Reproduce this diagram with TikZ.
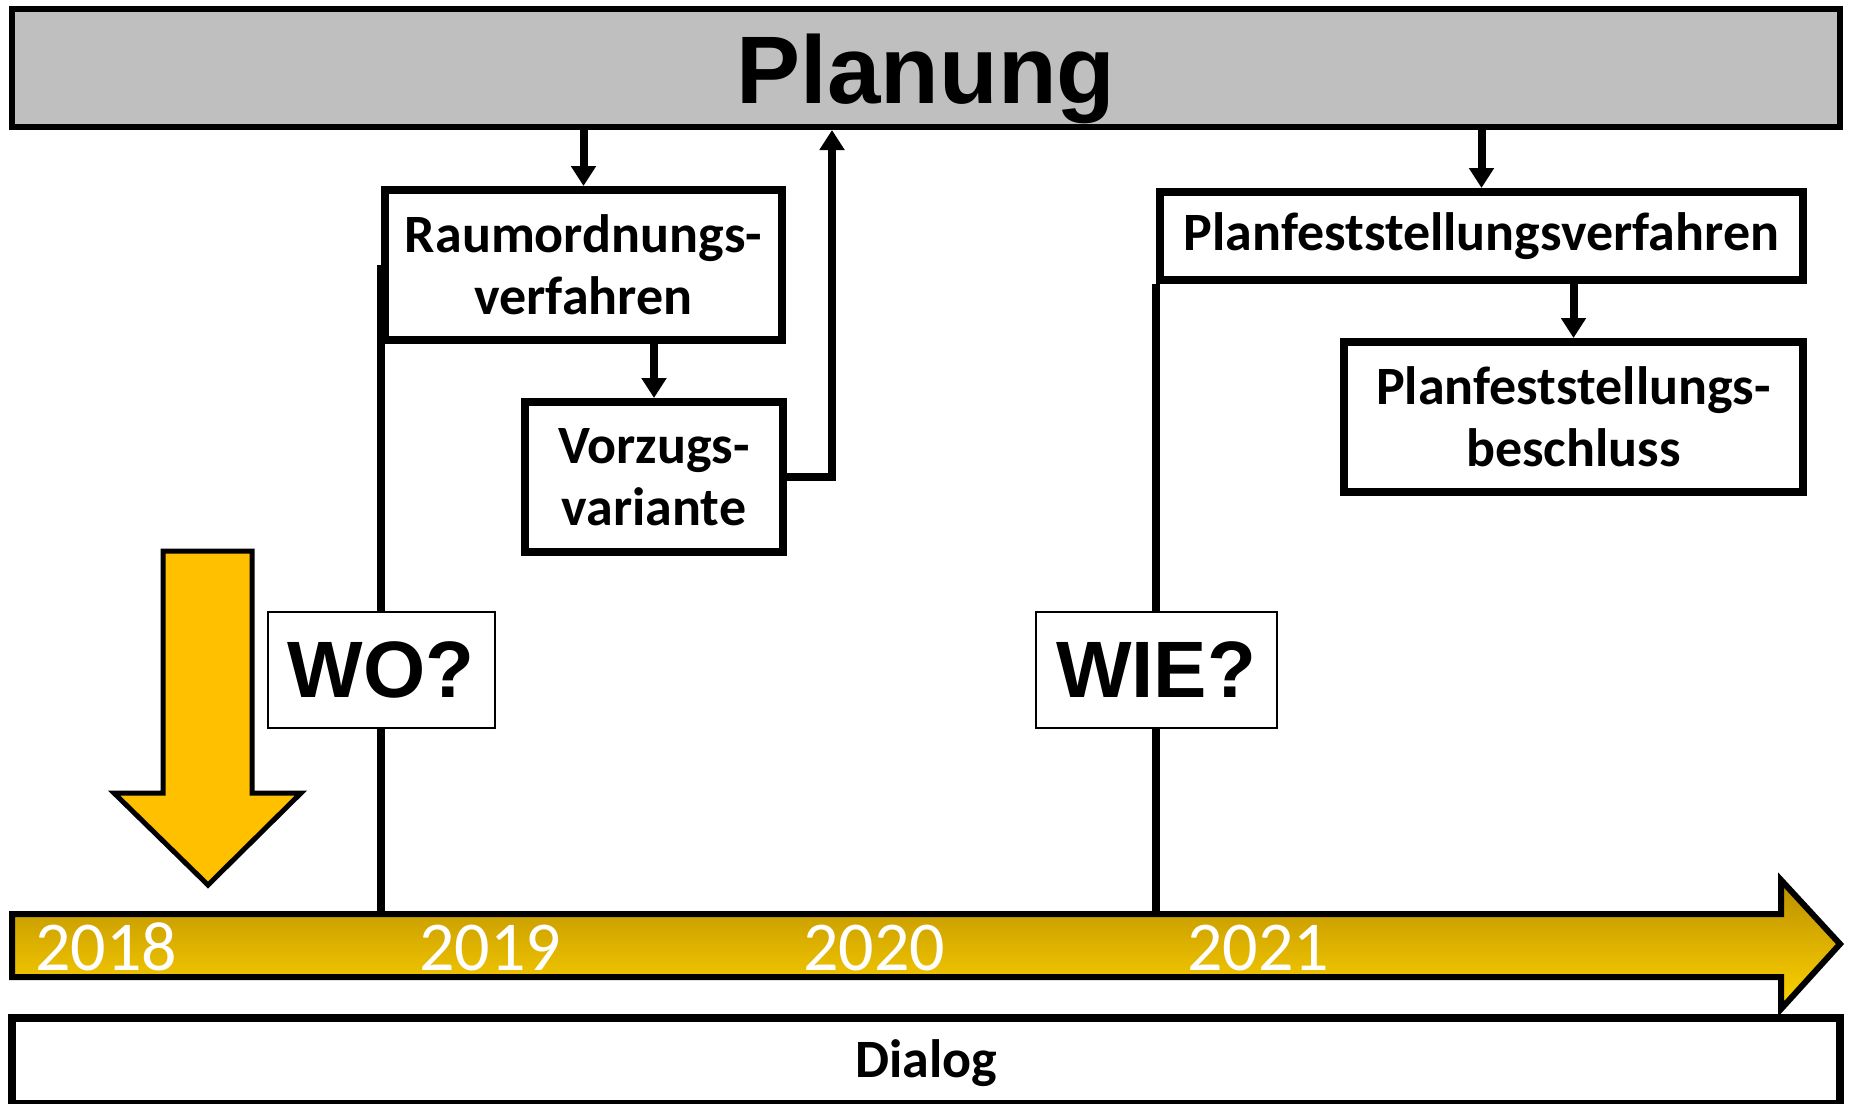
\documentclass[tikz,border=0pt]{standalone}
\usepackage{fontspec}
\setmainfont{Carlito}
\newfontfamily\headfont{Liberation Sans}
\usetikzlibrary{calc, positioning, arrows.meta}
\definecolor{PlanGrey}{RGB}{191, 191, 191}
\definecolor{MarkerGold}{RGB}{255, 192, 0}
\definecolor{AxisDark}{RGB}{186, 142, 0}
\definecolor{AxisLight}{RGB}{255, 212, 0}

\tikzset{
    box/.style={draw=black, line width=4pt, fill=white, align=center, inner sep=0pt,
        font=\fontsize{27}{31}\selectfont\bfseries},
    qbox/.style={draw=black, line width=1pt, fill=white, inner sep=0pt,
        font=\headfont\fontsize{40}{44}\selectfont\bfseries},
    conn/.style={line width=4pt, -{Triangle[length=10pt, width=12pt]}},
    link/.style={line width=4pt},
    year/.style={text=white, inner sep=0pt, anchor=base west, font=\fontsize{35}{40}\selectfont}
}

\begin{document}
\begin{tikzpicture}[x=0.5pt, y=-0.5pt]
    \useasboundingbox (0,0) rectangle (1850,1103);

    % Planung
    \node[box, line width=3pt, fill=PlanGrey, minimum width=914pt, minimum height=59pt, text height=35pt, text depth=0pt,
        font=\headfont\fontsize{48}{52}\selectfont\bfseries] (plan) at (926,68) {Planung};

    % Verfahren
    \node[box, minimum width=198.5pt, minimum height=75pt] (raum) at (583.5,265) {Raumordnungs-\\verfahren};
    \node[box, minimum width=129pt, minimum height=75pt] (vorz) at (654,477) {Vorzugs-\\variante};
    \node[box, minimum width=321.5pt, minimum height=44pt] (pfv) at (1481.5,236) {Planfeststellungsverfahren};
    \node[box, minimum width=229.5pt, minimum height=75pt] (pfb) at (1573.5,417) {Planfeststellungs-\\beschluss};

    % Zeitachse
    \draw[line width=3pt, top color=AxisDark, bottom color=AxisLight]
        (12,914) -- (1781,914) -- (1781,880) -- (1840,944) -- (1781,1009) -- (1781,977) -- (12,977) -- cycle;
    \coordinate (axis) at (12,914);
    \foreach \yr [count=\i from 0] in {2018,2019,2020,2021}
        \node[year] (y\yr) at (35+384*\i,970) {\yr};

    % Phasen
    \draw[link] (raum.west) -- (raum.west |- axis);
    \draw[link] (pfv.south west) -- (pfv.south west |- axis);
    \node[qbox, minimum width=113.5pt, minimum height=58pt] (wo) at (raum.west |- 0,670) {WO?};
    \node[qbox, minimum width=120.5pt, minimum height=58pt] (wie) at (pfv.west |- 0,670) {WIE?};

    % Pfeile
    \draw[conn] (plan.south -| raum.north) -- (raum.north);
    \draw[conn] (raum.south -| vorz.north) -- (vorz.north);
    \draw[conn] (vorz.east) -- ++(45,0) coordinate (back) -- (back |- plan.south);
    \draw[conn] (plan.south -| pfv.north) -- (pfv.north);
    \draw[conn] (pfv.south -| pfb.north) -- (pfb.north);

    % Marker 2018
    \draw[line width=2.5pt, fill=MarkerGold]
        (163,551) -- (252,551) -- (252,793) -- (301,793) -- (208,885) -- (114,793) -- (163,793) -- cycle;

    % Dialog
    \node[box, minimum width=914pt, minimum height=43pt, text height=19pt, text depth=3pt] (dial) at (926,1061) {Dialog};
\end{tikzpicture}
\end{document}
